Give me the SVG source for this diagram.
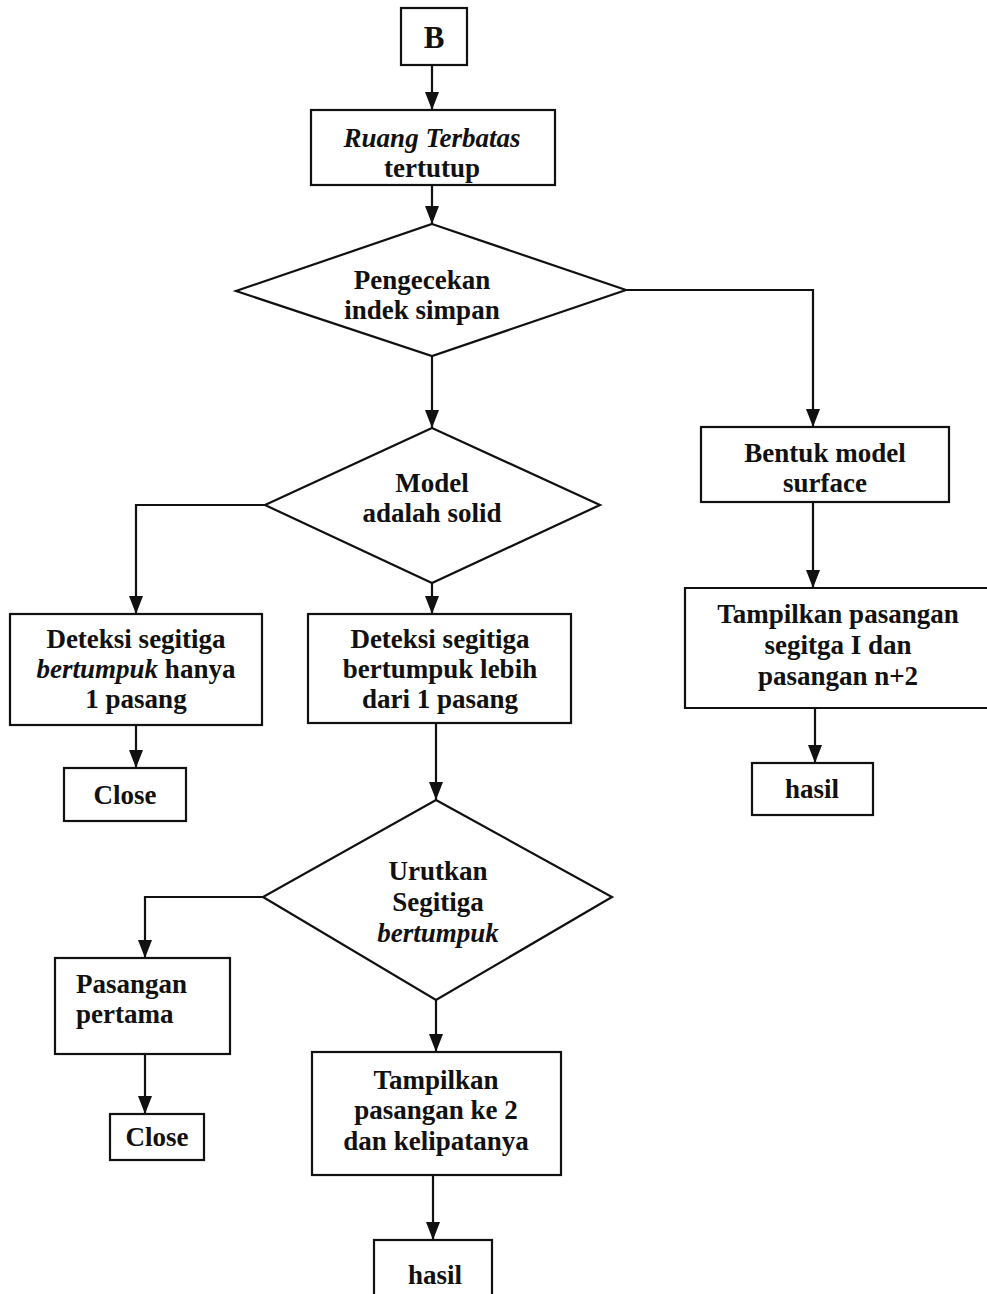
<svg xmlns="http://www.w3.org/2000/svg" width="987" height="1294" viewBox="0 0 987 1294">
<style>
.box{fill:#fff;stroke:#111;stroke-width:2.2}
.dia{fill:#fff;stroke:#111;stroke-width:2.2}
.t{font-family:"Liberation Serif","Times New Roman",serif;font-weight:bold;font-size:27px;fill:#111;text-anchor:middle}
.i{font-style:italic}
.c{fill:none;stroke:#111;stroke-width:2.2}
</style>
<defs>
<marker id="ah" viewBox="0 0 18 14" refX="18" refY="7" markerWidth="18" markerHeight="14" markerUnits="userSpaceOnUse" orient="auto"><path d="M0,0 L18,7 L0,14 z" fill="#111"/></marker>
</defs>
<rect width="987" height="1294" fill="#fff"/>
<g id="connectors">
<path class="c" d="M432,65 V110" marker-end="url(#ah)"/>
<path class="c" d="M432,185 V224" marker-end="url(#ah)"/>
<path class="c" d="M626,290 H813 V427" marker-end="url(#ah)"/>
<path class="c" d="M432,356 V428" marker-end="url(#ah)"/>
<path class="c" d="M813,502 V588" marker-end="url(#ah)"/>
<path class="c" d="M815,708 V763" marker-end="url(#ah)"/>
<path class="c" d="M265,505 H136 V614" marker-end="url(#ah)"/>
<path class="c" d="M432,583 V614" marker-end="url(#ah)"/>
<path class="c" d="M136,725 V768" marker-end="url(#ah)"/>
<path class="c" d="M436,723 V800" marker-end="url(#ah)"/>
<path class="c" d="M263,897 H145 V958" marker-end="url(#ah)"/>
<path class="c" d="M436,1000 V1052" marker-end="url(#ah)"/>
<path class="c" d="M145,1054 V1114" marker-end="url(#ah)"/>
<path class="c" d="M433,1175 V1240" marker-end="url(#ah)"/>
</g>
<g id="n_B"><rect class="box" x="401" y="8" width="66" height="57"/><text class="t" x="434" y="48" style="font-size:31px">B</text></g>
<g id="n_ruang"><rect class="box" x="311" y="110" width="244" height="75"/><text class="t i" x="432" y="147">Ruang Terbatas</text><text class="t" x="432" y="177">tertutup</text></g>
<g id="n_cek"><polygon class="dia" points="432,224 626,290 432,356 236,291"/><text class="t" x="422" y="289">Pengecekan</text><text class="t" x="422" y="319">indek simpan</text></g>
<g id="n_model"><polygon class="dia" points="432,428 600,505 432,583 265,505"/><text class="t" x="432" y="492">Model</text><text class="t" x="432" y="522">adalah solid</text></g>
<g id="n_bentuk"><rect class="box" x="701" y="427" width="248" height="75"/><text class="t" x="825" y="462">Bentuk model</text><text class="t" x="825" y="492">surface</text></g>
<g id="n_tampil1"><path class="box" d="M990,588 H685 V708 H990"/><text class="t" x="838" y="623">Tampilkan pasangan</text><text class="t" x="838" y="654">segitga I dan</text><text class="t" x="838" y="685">pasangan n+2</text></g>
<g id="n_hasil1"><rect class="box" x="752" y="763" width="121" height="52"/><text class="t" x="812" y="798">hasil</text></g>
<g id="n_det1"><rect class="box" x="10" y="614" width="252" height="111"/><text class="t" x="136" y="648">Deteksi segitiga</text><text class="t" x="136" y="678"><tspan class="i">bertumpuk</tspan> hanya</text><text class="t" x="136" y="708">1 pasang</text></g>
<g id="n_det2"><rect class="box" x="308" y="614" width="263" height="109"/><text class="t" x="440" y="648">Deteksi segitiga</text><text class="t" x="440" y="678">bertumpuk lebih</text><text class="t" x="440" y="708">dari 1 pasang</text></g>
<g id="n_close1"><rect class="box" x="64" y="768" width="122" height="53"/><text class="t" x="125" y="804">Close</text></g>
<g id="n_urut"><polygon class="dia" points="436,800 612,897 436,1000 263,897"/><text class="t" x="438" y="880">Urutkan</text><text class="t" x="438" y="911">Segitiga</text><text class="t i" x="438" y="942">bertumpuk</text></g>
<g id="n_pasangan"><rect class="box" x="55" y="958" width="175" height="96"/><text class="t" x="76" y="993" style="text-anchor:start">Pasangan</text><text class="t" x="76" y="1023" style="text-anchor:start">pertama</text></g>
<g id="n_close2"><rect class="box" x="110" y="1114" width="94" height="46"/><text class="t" x="157" y="1146">Close</text></g>
<g id="n_tampil2"><rect class="box" x="312" y="1052" width="249" height="123"/><text class="t" x="436" y="1089">Tampilkan</text><text class="t" x="436" y="1119">pasangan ke 2</text><text class="t" x="436" y="1150">dan kelipatanya</text></g>
<g id="n_hasil2"><rect class="box" x="374" y="1240" width="118" height="60"/><text class="t" x="435" y="1284">hasil</text></g>
</svg>
